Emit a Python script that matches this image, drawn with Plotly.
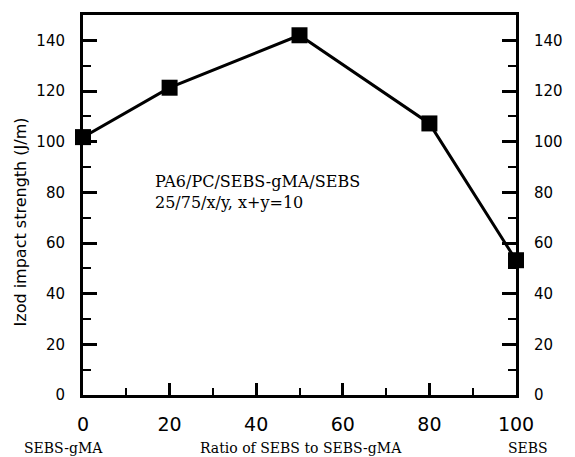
import plotly.graph_objects as go

# Data
ratio = [0, 20, 50, 80, 100]
izod = [101.8, 121.3, 142.0, 107.2, 53.2]
x_ticks = [0, 20, 40, 60, 80, 100]
y_ticks = [0, 20, 40, 60, 80, 100, 120, 140]

fig = go.Figure()
fig.add_trace(go.Scatter(
    x=ratio, y=izod, mode="lines+markers",
    line=dict(color="black", width=3),
    marker=dict(symbol="square", size=16, color="black"),
    cliponaxis=False, showlegend=False))
# invisible twin to anchor the right axis
fig.add_trace(go.Scatter(
    x=ratio, y=izod, yaxis="y2", mode="markers",
    marker=dict(opacity=0), showlegend=False, hoverinfo="skip"))

tickfont_y = dict(family="DejaVu Sans", size=15, color="black")
yaxis_common = dict(
    range=[0, 150], tickvals=y_ticks, ticks="inside", ticklen=14, tickwidth=2.5,
    tickcolor="black", showgrid=False, zeroline=False,
    showline=True, linecolor="black", linewidth=3,
    minor=dict(ticks="inside", dtick=10, ticklen=8, tickwidth=2, tickcolor="black"),
    tickfont=tickfont_y, ticklabelstandoff=12, fixedrange=True)

fig.update_layout(
    width=575, height=457,
    margin=dict(l=83, r=52, t=14, b=62),
    paper_bgcolor="white", plot_bgcolor="white",
    xaxis=dict(
        range=[0, 100], tickvals=x_ticks, ticks="inside", ticklen=12, tickwidth=2.5,
        tickcolor="black", showgrid=False, zeroline=False,
        showline=True, mirror=True, linecolor="black", linewidth=3,
        minor=dict(ticks="inside", dtick=10, ticklen=7, tickwidth=2, tickcolor="black"),
        tickfont=dict(family="DejaVu Sans", size=19, color="black"),
        ticklabelstandoff=10, fixedrange=True),
    yaxis=dict(side="left", **yaxis_common),
    yaxis2=dict(side="right", overlaying="y", **yaxis_common),
)

serif = dict(family="DejaVu Serif, serif", color="black")
fig.add_annotation(text="PA6/PC/SEBS-gMA/SEBS<br>25/75/x/y, x+y=10", x=16.2, y=80.3,
                   xref="x", yref="y", xanchor="left", yanchor="middle", align="left",
                   showarrow=False, font=dict(size=16, **serif))
bottom_labels = [("SEBS-gMA", -0.045), ("Ratio of SEBS to SEBS-gMA", 0.5045), ("SEBS", 1.027)]
for txt, xp in bottom_labels:
    fig.add_annotation(text=txt, x=xp, y=0, xref="paper", yref="paper", yshift=-53,
                       xanchor="center", yanchor="middle", showarrow=False,
                       font=dict(size=14, **serif))
fig.add_annotation(text="Izod impact strength (J/m)", x=0, y=0.454, xref="paper",
                   yref="paper", xshift=-63, textangle=-90, xanchor="center",
                   yanchor="middle", showarrow=False,
                   font=dict(family="DejaVu Sans", size=16, color="black"))

fig.write_html("out.html", config={"displayModeBar": False},
               post_script="document.body.style.margin='0';document.body.style.overflow='hidden';")
